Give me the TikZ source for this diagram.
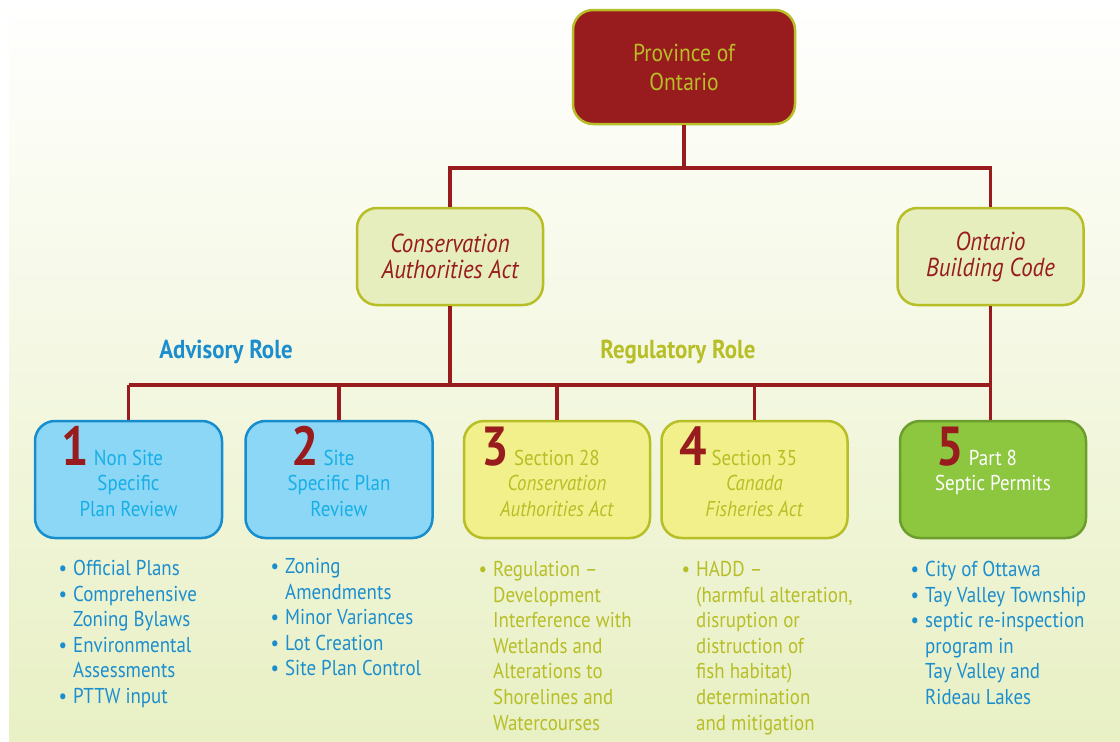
\documentclass[tikz,border=0pt]{standalone}
\usepackage{fontspec}
\setmainfont{PT Sans}[FakeStretch=0.88]
\usetikzlibrary{positioning}

\definecolor{ontred}{RGB}{152,27,30}
\definecolor{olive}{RGB}{183,190,38}
\definecolor{paleolive}{RGB}{230,238,190}
\definecolor{skyfill}{RGB}{140,214,246}
\definecolor{skyline}{RGB}{22,142,206}
\definecolor{skytext}{RGB}{22,176,230}
\definecolor{listblue}{RGB}{28,142,206}
\definecolor{yelfill}{RGB}{242,240,138}
\definecolor{grnfill}{RGB}{141,198,63}
\definecolor{grnline}{RGB}{108,158,46}
\definecolor{bgbot}{RGB}{232,240,196}

\newcommand{\bignum}[1]{\llap{\smash{\fontsize{55}{55}\selectfont\bfseries\color{ontred}#1}\hspace{5pt}}}
\newcommand{\itm}{\llap{\textbullet\hspace{6pt}}}

\tikzset{
  box/.style={line width=2.5pt, rounded corners=20pt, inner sep=0pt, align=center},
  topbox/.style={box, fill=ontred, draw=olive, text=olive,
    minimum width=222pt, minimum height=114pt, font=\fontsize{24.5}{29}\selectfont},
  actbox/.style={box, fill=paleolive, draw=olive, text=ontred,
    minimum width=186pt, minimum height=97pt, font=\fontsize{26}{26}\selectfont\itshape},
  skybox/.style={box, fill=skyfill, draw=skyline, minimum width=187pt, minimum height=117pt},
  yelbox/.style={box, fill=yelfill, draw=olive, minimum width=186pt, minimum height=117pt},
  grnbox/.style={box, fill=grnfill, draw=grnline, minimum width=186pt, minimum height=117pt},
  boxtxt/.style={align=center, inner sep=0pt, font=\fontsize{21.5}{25.5}\selectfont},
  role/.style={inner sep=0pt, font=\fontsize{26}{26}\selectfont\bfseries},
  lst/.style={align=left, anchor=north west, inner sep=0pt, font=\fontsize{21.5}{25.6}\selectfont},
  link/.style={draw=ontred, line width=3.8pt},
}

\begin{document}
\begin{tikzpicture}[x=1pt,y=-1pt,line join=miter]
\useasboundingbox (0,0) rectangle (1120,742);
% background
\shade[top color=white, bottom color=bgbot] (9,0) rectangle (1120,742);
%%
  % Node: prov
  \node[topbox] (prov) at (684,67) {Province of\\Ontario};
  % Node: caa
  \node[actbox] (caa) at (450,256.5) {Conservation\\Authorities Act};
  % Node: obc
  \node[actbox] (obc) at (990.5,256.5) {Ontario\\Building Code};
  % Node: n1 .. n5
  \node[skybox] (n1) at (128.5,479.5) {};
  \node[skybox] (n2) at (339,479.5) {};
  \node[yelbox] (n3) at (557,479.5) {};
  \node[yelbox] (n4) at (754.5,479.5) {};
  \node[grnbox] (n5) at (993,479.5) {};
  \node[boxtxt, text=skytext, below=30pt of n1.north] (t1) {\bignum{1}Non Site\\Specific\\Plan Review};
  \node[boxtxt, text=skytext, below=30pt of n2.north] (t2) {\bignum{2}Site\\Specific Plan\\Review};
  \node[boxtxt, text=olive, below=30pt of n3.north] (t3) {\bignum{3}Section 28\\\textit{Conservation}\\\textit{Authorities Act}};
  \node[boxtxt, text=olive, below=30pt of n4.north] (t4) {\bignum{4}Section 35\\\textit{Canada}\\\textit{Fisheries Act}};
  \node[boxtxt, text=white, below=30pt of n5.north] (t5) {\bignum{5}Part 8\\Septic Permits};
  % Node: roles
  \node[role, text=listblue] (adv) at (226,352) {Advisory Role};
  \node[role, text=olive] (reg) at (678,352) {Regulatory Role};
  % Node: lists
  \node[lst, text=listblue] (l1) at (73,560) {\itm Official Plans\\\itm Comprehensive\\Zoning Bylaws\\\itm Environmental\\Assessments\\\itm PTTW input};
  \node[lst, text=listblue] (l2) at (285,558) {\itm Zoning\\Amendments\\\itm Minor Variances\\\itm Lot Creation\\\itm Site Plan Control};
  \node[lst, text=olive] (l3) at (493,561) {\itm Regulation --\\Development\\Interference with\\Wetlands and\\Alterations to\\Shorelines and\\Watercourses};
  \node[lst, text=olive] (l4) at (696,561) {\itm HADD --\\(harmful alteration,\\disruption or\\distruction of\\fish habitat)\\determination\\and mitigation};
  \node[lst, text=listblue] (l5) at (925,561) {\itm City of Ottawa\\\itm Tay Valley Township\\\itm septic re-inspection\\program in\\Tay Valley and\\Rideau Lakes};
%%
  \coordinate (bus1) at (684,168);
  \coordinate (bus2) at (450,385);
  % Edge: prov -> caa, prov -> obc
  \draw[link] (prov.south) -- (prov.south |- bus1) -| (caa.north);
  \draw[link] (prov.south |- bus1) -| (obc.north);
  % Edge: caa -> n1 .. n4
  \draw[link] (caa.south) -- (caa.south |- bus2);
  \foreach \n in {n1,n2,n3,n4}
    \draw[link] (\n.north |- bus2) -- (\n.north);
  % Edge: obc -> n5
  \draw[link] (obc.south) -- (obc.south |- n5.north);
  \draw[link] (n1.north |- bus2) -- (obc.south |- bus2);
%
\end{tikzpicture}
\end{document}
